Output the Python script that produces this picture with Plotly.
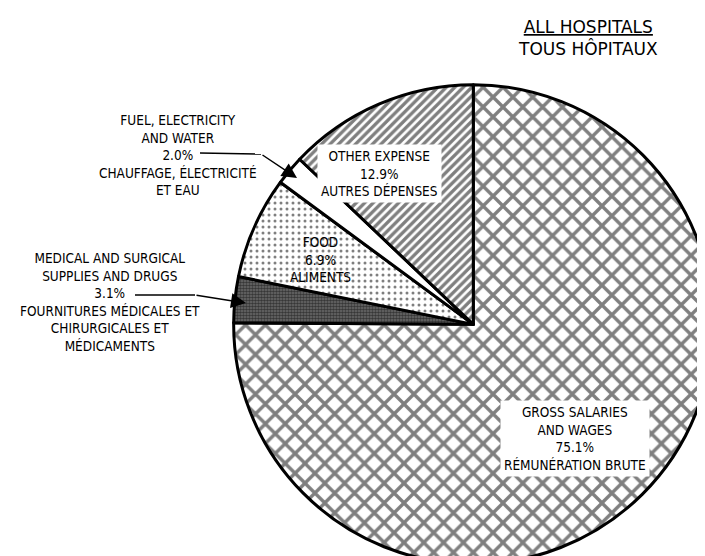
import plotly.graph_objects as go

W, H = 705, 556

# slices, clockwise from 12 o'clock
labels = ["Gross salaries and wages", "Medical and surgical supplies and drugs",
          "Food", "Fuel, electricity and water", "Other expense"]
values = [75.1, 3.1, 6.9, 2.0, 12.9]

title_en = "ALL HOSPITALS"
title_fr = "TOUS HÔPITAUX"

txt_salaries = "GROSS SALARIES<br>AND WAGES<br>75.1%<br>RÉMUNÉRATION BRUTE"
txt_other = "OTHER EXPENSE<br>12.9%<br>AUTRES DÉPENSES"
txt_food = "FOOD<br>6.9%<br>ALIMENTS"
txt_fuel = "FUEL, ELECTRICITY<br>AND WATER<br>2.0%<br>CHAUFFAGE, ÉLECTRICITÉ<br>ET EAU"
txt_med = ("MEDICAL AND SURGICAL<br>SUPPLIES AND DRUGS<br>3.1%<br>"
           "FOURNITURES MÉDICALES ET<br>CHIRURGICALES ET<br>MÉDICAMENTS")

FONT = "DejaVu Sans Condensed, DejaVu Sans, sans-serif"


def px(x, y):
    # pixel position -> paper coords
    return x / W, 1 - y / H


fig = go.Figure(go.Pie(
    labels=labels,
    values=values,
    sort=False,
    direction="clockwise",
    rotation=0,
    textinfo="none",
    hoverinfo="label+percent",
    showlegend=False,
    domain=dict(x=[0.32, 1.0], y=[0.0, 0.862]),
    marker=dict(
        colors=["white", "#6e6e6e", "white", "white", "white"],
        line=dict(color="black", width=3),
        pattern=dict(
            shape=["x", ".", ".", "", "/"],
            size=[14, 3, 6, 8, 6],
            solidity=[0.42, 0.6, 0.2, 0.2, 0.55],
            fgcolor="black",
            fillmode="overlay",
        ),
    ),
))

annots = []


def label(text, x, y, size=13.5, bg=None, family=FONT):
    ax_, ay_ = px(x, y)
    d = dict(text=text, x=ax_, y=ay_, xref="paper", yref="paper",
             showarrow=False, xanchor="center", yanchor="middle",
             font=dict(family=family, size=size, color="black"), borderpad=3)
    if bg:
        d["bgcolor"] = bg
    annots.append(d)


label(txt_other, 371, 166, bg="white")
label(txt_food, 312, 251)
label(txt_salaries, 567, 430, bg="white")
label(txt_fuel, 170, 147)
label(txt_med, 102, 294)
label("<u>" + title_en + "</u><br>" + title_fr, 580, 30, size=17,
      family="DejaVu Sans, sans-serif")


def arrow(x0, y0, x1, y1):
    hx, hy = px(x1, y1)
    annots.append(dict(x=hx, y=hy, xref="paper", yref="paper", text="",
                       showarrow=True, ax=x0 - x1, ay=y0 - y1, axref="pixel", ayref="pixel",
                       arrowhead=2, arrowsize=2, arrowwidth=1.5, arrowcolor="black",
                       standoff=0, startstandoff=0))


# leader lines: horizontal run then arrow into the slice
shapes = []
for (xa, ya, xb, yb, xc, yc) in [(192, 145, 253, 146, 289, 170),
                                 (127, 287, 187, 287, 238, 295)]:
    p0, p1 = px(xa, ya), px(xb, yb)
    shapes.append(dict(type="line", xref="paper", yref="paper",
                       x0=p0[0], y0=p0[1], x1=p1[0], y1=p1[1],
                       line=dict(color="black", width=1.5)))
    arrow(xb, yb, xc, yc)

fig.update_layout(
    width=W, height=H,
    margin=dict(l=0, r=0, t=0, b=0),
    paper_bgcolor="white",
    plot_bgcolor="white",
    annotations=annots,
    shapes=shapes,
)

fig.write_html("out.html")
